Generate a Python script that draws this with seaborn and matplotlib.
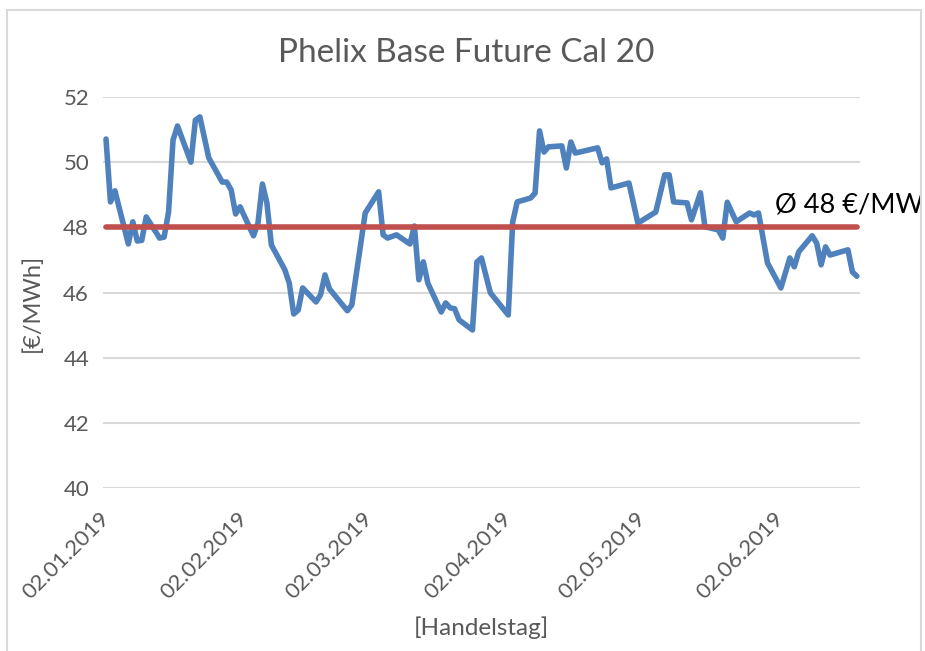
import matplotlib
matplotlib.use("Agg")
import matplotlib.pyplot as plt
import matplotlib.dates as mdates
from matplotlib.patches import Rectangle
import numpy as np
import pandas as pd
import seaborn as sns

# ---- data ----
start_date = "2019-01-02"
day_offsets = [0, 1, 2, 5, 6, 7, 8, 9, 12, 13, 14, 15, 16, 19, 20, 21, 23, 26, 27, 28,
               29, 30, 33, 34, 35, 36, 37, 40, 41, 42, 43, 44, 47, 48, 49, 50, 54, 55, 58, 61,
               62, 63, 65, 68, 69, 70, 71, 72, 75, 76, 77, 78, 79, 82, 83, 84, 86, 90, 91, 92,
               95, 96, 97, 98, 99, 102, 103, 104, 105, 110, 111, 112, 113, 117, 119, 123, 125, 126, 127, 130,
               131, 133, 134, 137, 138, 139, 141, 144, 145, 146, 148, 151, 153, 154, 155, 158, 159, 160, 161, 162,
               166, 167, 168]
prices = [50.71, 48.78, 49.12, 47.49, 48.17, 47.58, 47.60, 48.32, 47.67, 47.70, 48.47, 50.68, 51.11, 50.00, 51.29, 51.39, 50.13, 49.39, 49.39, 49.15,
          48.41, 48.63, 47.74, 48.13, 49.33, 48.75, 47.46, 46.70, 46.29, 45.34, 45.46, 46.14, 45.71, 45.93, 46.54, 46.11, 45.44, 45.62, 48.44, 49.09,
          47.77, 47.67, 47.77, 47.49, 48.04, 46.39, 46.94, 46.29, 45.40, 45.68, 45.53, 45.50, 45.16, 44.85, 46.94, 47.06, 45.99, 45.31, 48.17, 48.78,
          48.90, 49.05, 50.96, 50.31, 50.47, 50.50, 49.82, 50.62, 50.28, 50.44, 49.98, 50.10, 49.21, 49.36, 48.13, 48.47, 49.61, 49.61, 48.78, 48.75,
          48.23, 49.06, 48.02, 47.92, 47.67, 48.77, 48.17, 48.44, 48.38, 48.44, 46.91, 46.14, 47.06, 46.79, 47.25, 47.74, 47.52, 46.85, 47.40, 47.15,
          47.31, 46.63, 46.50]
average_price = 48
tick_dates = ["2019-01-02", "2019-02-02", "2019-03-02", "2019-04-02", "2019-05-02", "2019-06-02"]
tick_labels = ["02.01.2019", "02.02.2019", "02.03.2019", "02.04.2019", "02.05.2019", "02.06.2019"]
y_ticks = [40, 42, 44, 46, 48, 50, 52]

title = "Phelix Base Future Cal 20"
x_label = "[Handelstag]"
y_label = "[€/MWh]"
avg_label = "Ø 48 €/MWh"

# ---- build frames ----
t0 = pd.Timestamp(start_date)
dates = t0 + pd.to_timedelta(day_offsets, unit="D")
df = pd.DataFrame({"Datum": dates, "Preis": prices})
df_avg = pd.DataFrame({"Datum": [dates[0], dates[-1]], "Preis": [average_price, average_price]})

sns.set_theme(style="white")
plt.rcParams["font.family"] = ["Lato", "DejaVu Sans"]

W, H = 925, 651
fig = plt.figure(figsize=(W / 100, H / 100), dpi=100)
fig.patch.set_facecolor("white")
ax = fig.add_axes([103 / W, 1 - 488 / H, (860 - 103) / W, (488 - 97) / H])

grey = "#595959"
blue = "#4F81BD"
red = "#C0504D"

sns.lineplot(data=df, x="Datum", y="Preis", ax=ax, color=blue, linewidth=4.0,
             solid_joinstyle="round", solid_capstyle="round", zorder=3)
sns.lineplot(data=df_avg, x="Datum", y="Preis", ax=ax, color=red, linewidth=4.0,
             solid_capstyle="round", zorder=4)

ax.set_ylim(40, 52)
ax.set_xlim(mdates.date2num(t0) - 0.67, mdates.date2num(t0) + 168.7)
ax.set_yticks(y_ticks)
ax.set_yticklabels([str(v) for v in y_ticks])
ax.set_xticks(pd.to_datetime(tick_dates))
ax.set_xticklabels(tick_labels, rotation=45, ha="right", va="center", rotation_mode="anchor")
ax.tick_params(axis="y", length=0, pad=10, labelsize=16, labelcolor=grey)
ax.tick_params(axis="x", length=0, pad=20, labelsize=16, labelcolor=grey)

ax.grid(axis="y", color="#D9D9D9", linewidth=1.5)
ax.grid(axis="x", visible=False)
for s in ax.spines.values():
    s.set_visible(False)
ax.set_xlabel("")
ax.set_ylabel("")

ax.text(mdates.date2num(t0) + 149.7, 48.47, avg_label, fontsize=19.5, color="black",
        ha="left", va="baseline", clip_on=False, zorder=6)

fig.text(466 / W, 1 - 62 / H, title, fontsize=24, color=grey, ha="center", va="baseline")
fig.text(481 / W, 1 - 628 / H, x_label, fontsize=17.5, color=grey, ha="center", va="center")
fig.text(32 / W, 1 - 303 / H, y_label, fontsize=17, color=grey, ha="center", va="center", rotation=90)

# cover beyond the chart frame on the right and draw the frame
fig.patches.append(Rectangle((921 / W, 0), 10 / W, 1, transform=fig.transFigure,
                             facecolor="white", edgecolor="none", zorder=10))
fig.patches.append(Rectangle((7 / W, -0.05), (921 - 7) / W, 1.05 - 10 / H, transform=fig.transFigure,
                             facecolor="none", edgecolor="#D9D9D9", linewidth=1.5, zorder=11))

fig.savefig("out.png", dpi=100, facecolor="white")
